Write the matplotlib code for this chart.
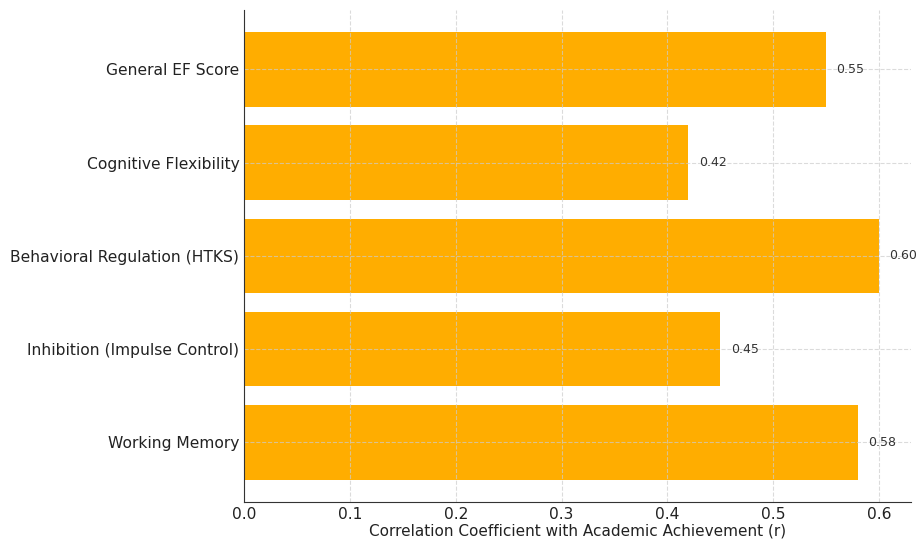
import matplotlib
matplotlib.use("Agg")
import matplotlib.pyplot as plt

# data (bottom to top)
measures = ["Working Memory", "Inhibition (Impulse Control)", "Behavioral Regulation (HTKS)",
            "Cognitive Flexibility", "General EF Score"]
corr = [0.58, 0.45, 0.60, 0.42, 0.55]

fig, ax = plt.subplots(figsize=(9.18, 5.42), dpi=100)
fig.subplots_adjust(left=0.266, right=0.992, top=0.982, bottom=0.074)

bars = ax.barh(measures, corr, color="#ffad00")

for b, v in zip(bars, corr):
    ax.text(v + 0.01, b.get_y() + b.get_height() / 2, f"{v:.2f}",
            va="center", ha="left", fontsize=9, color="#333333")

ax.set_xlabel("Correlation Coefficient with Academic Achievement (r)", fontsize=11,
              color="#222222", labelpad=1)
ax.grid(True, linestyle="--", color="#cccccc", linewidth=0.8, alpha=0.7)
ax.tick_params(axis="both", length=0, labelsize=11.2, labelcolor="#222222")
ax.tick_params(axis="x", pad=4)
for s in ["top", "right"]:
    ax.spines[s].set_visible(False)
for s in ["left", "bottom"]:
    ax.spines[s].set_color("#333333")

fig.savefig("out.png", dpi=100)
